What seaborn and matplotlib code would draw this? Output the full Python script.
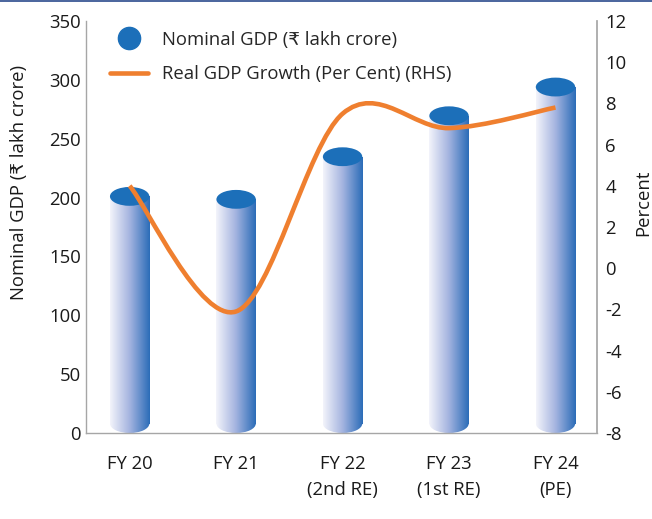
import numpy as np
import pandas as pd
import matplotlib
matplotlib.use("Agg")
import matplotlib.pyplot as plt
import seaborn as sns
from matplotlib.path import Path
from matplotlib.patches import PathPatch, Ellipse, Rectangle
from matplotlib.lines import Line2D
from matplotlib.colors import LinearSegmentedColormap

# data
years = ["FY 20", "FY 21", "FY 22\n(2nd RE)", "FY 23\n(1st RE)", "FY 24\n(PE)"]
nominal_gdp = [201.0, 198.5, 234.7, 269.5, 293.9]
real_growth = [4.0, -2.1, 7.5, 6.8, 7.8]

BLUE = "#1c6fb9"
ORANGE = "#ef7f2f"
GREY = "#a6a6a6"
FS = 13.3

sns.set_theme(style="white")
plt.rcParams["font.family"] = ["Open Sans", "DejaVu Sans"]
plt.rcParams["font.size"] = FS
plt.rcParams["axes.unicode_minus"] = False

df = pd.DataFrame({"year": years, "gdp": nominal_gdp})

fig = plt.figure(figsize=(6.52, 5.19), dpi=100)
ax = fig.add_axes([86 / 652, 86 / 519, 511 / 652, 412 / 519])

bar_w = 0.37
sns.barplot(data=df, x="year", y="gdp", ax=ax, width=bar_w, color=BLUE)

xlim = (-0.41, 4.39)
ylim = (0, 350)
ell_h = 16.0
grad = LinearSegmentedColormap.from_list("cyl", ["#f3f4fb", "#a3b3df", "#2b6cb8"])
gimg = np.linspace(0, 1, 256).reshape(1, -1)

# turn each bar into a cylinder: gradient body, rounded bottom, solid top
for patch in ax.patches:
    x0 = patch.get_x()
    w = patch.get_width()
    h = patch.get_height()
    patch.set_visible(False)
    cx = x0 + w / 2
    body = Rectangle((x0, ell_h / 2), w, h - ell_h / 2, transform=ax.transData)
    bottom = Ellipse((cx, ell_h / 2), w, ell_h, transform=ax.transData)
    for clip in (body, bottom):
        im = ax.imshow(gimg, cmap=grad, aspect="auto", extent=[x0, x0 + w, 0, h],
                       interpolation="bilinear", zorder=2)
        im.set_clip_path(clip)
    ax.add_patch(Ellipse((cx, h), w, ell_h, facecolor=BLUE, edgecolor="none", zorder=3))

ax.set_xlim(*xlim)
ax.set_ylim(*ylim)
ax.set_yticks(np.arange(0, 351, 50))
ax.set_xlabel("")
ax.set_ylabel("")
ax.tick_params(axis="both", length=0, labelsize=FS, colors="#1a1a1a")
ax.tick_params(axis="x", pad=16)
for lbl in ax.get_xticklabels():
    lbl.set_linespacing(1.55)
for s in ["top", "right"]:
    ax.spines[s].set_visible(False)
for s in ["left", "bottom"]:
    ax.spines[s].set_color(GREY)
    ax.spines[s].set_linewidth(1.0)

ax2 = ax.twinx()
ax2.set_ylim(-8, 12)
ax2.set_yticks(np.arange(-8, 13, 2))
ax2.tick_params(axis="y", length=0, labelsize=FS, colors="#1a1a1a", pad=6)
for s in ["top", "left", "bottom"]:
    ax2.spines[s].set_visible(False)
ax2.spines["right"].set_color(GREY)

# axis titles sit a bit above the middle, as in the reference
fig.text(19 / 652, 1 - 183 / 519, "Nominal GDP (₹ lakh crore)", rotation=90,
         ha="center", va="center", fontsize=FS, color="#1a1a1a")
fig.text(643 / 652, 1 - 203 / 519, "Percent", rotation=90,
         ha="center", va="center", fontsize=FS, color="#1a1a1a")

# smoothed growth line (Excel style bezier through the points)
pts = np.column_stack([np.arange(len(real_growth)), real_growth]).astype(float)
ext = np.vstack([pts[0], pts, pts[-1]])
verts = [tuple(pts[0])]
codes = [Path.MOVETO]
for i in range(len(pts) - 1):
    p0, p1, p2, p3 = ext[i], ext[i + 1], ext[i + 2], ext[i + 3]
    c1 = p1 + (p2 - p0) / 6
    c2 = p2 - (p3 - p1) / 6
    verts += [tuple(c1), tuple(c2), tuple(p2)]
    codes += [Path.CURVE4] * 3
ax2.add_patch(PathPatch(Path(verts, codes), facecolor="none", edgecolor=ORANGE,
                        linewidth=3.3, capstyle="butt", zorder=5))
ax2.set_xlim(*xlim)

handles = [
    Line2D([], [], marker="o", linestyle="none", markersize=16, color=BLUE),
    Line2D([], [], color=ORANGE, linewidth=3.3),
]
fig.legend(handles, ["Nominal GDP (₹ lakh crore)", "Real GDP Growth (Per Cent) (RHS)"],
           loc="upper left", bbox_to_anchor=(93 / 652, 1 - 14 / 519), frameon=False,
           fontsize=FS, handlelength=2.1, handletextpad=0.75, labelspacing=0.9)

# thin rule along the top edge
fig.add_artist(Line2D([0, 1], [0.998, 0.998], transform=fig.transFigure,
                      color="#2a4a8c", linewidth=1.2))

fig.savefig("out.png", dpi=100)
